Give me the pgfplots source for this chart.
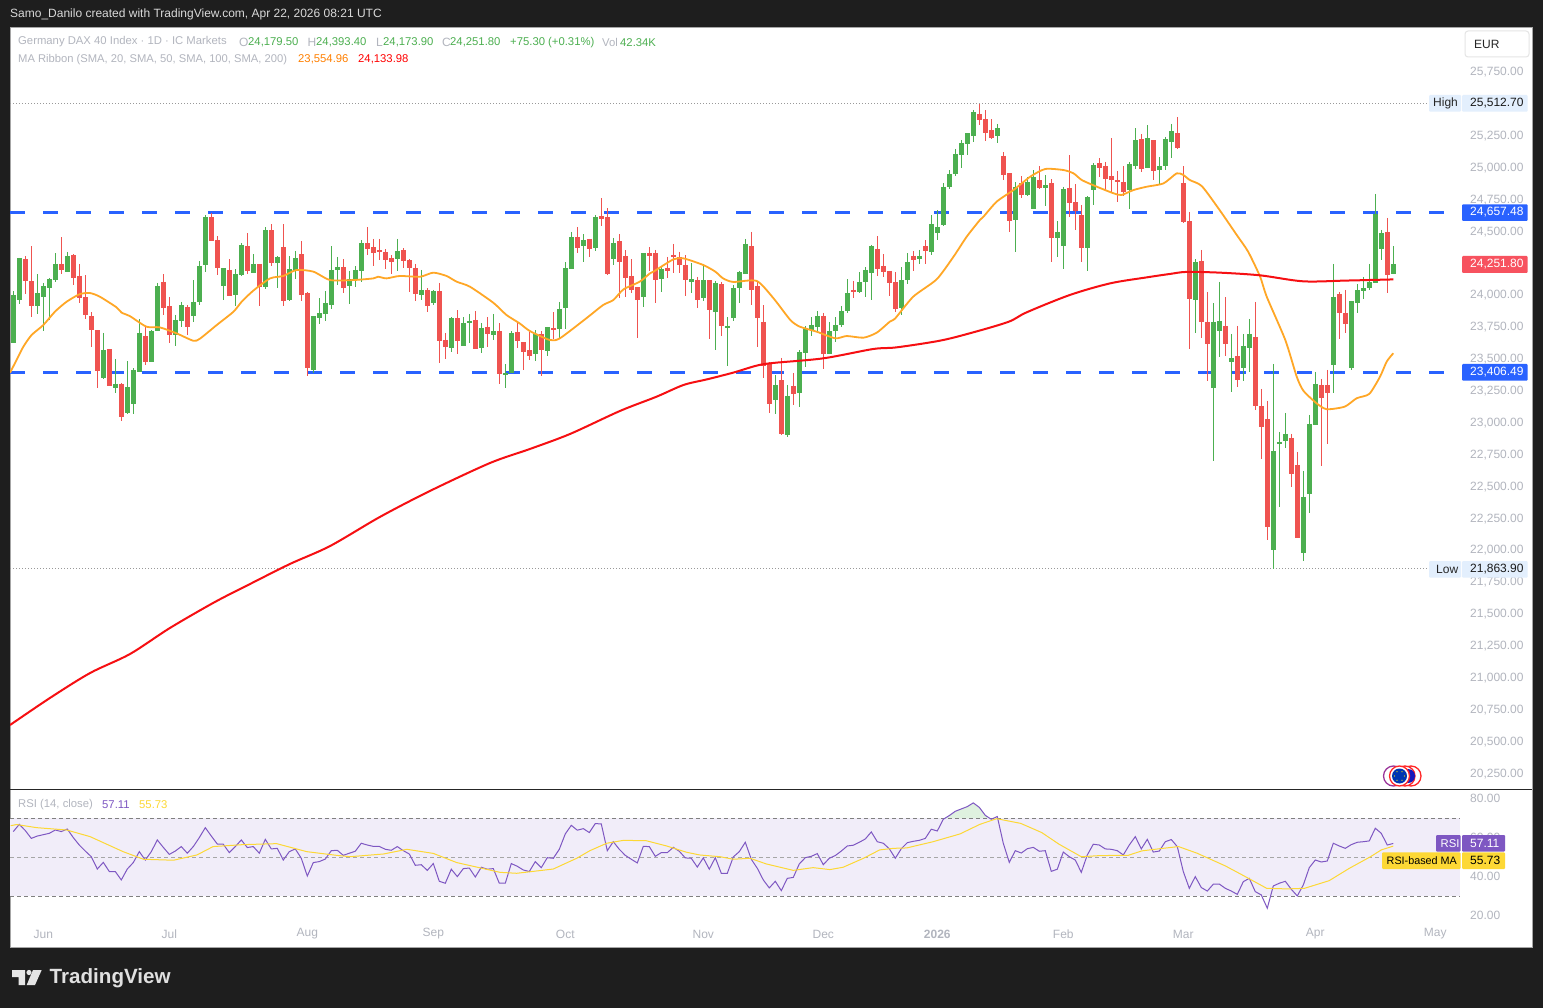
\documentclass[border=0pt]{standalone}
\usepackage{pgfplots}
\pgfplotsset{compat=1.18}
\usepackage{pgfplotstable}
\usetikzlibrary{calc}
\usepackage{fontspec}
\setmainfont{Liberation Sans}
\definecolor{dark}{HTML}{1E1E1E}
\definecolor{up}{HTML}{4CAF50}
\definecolor{down}{HTML}{EF5350}
\definecolor{lab}{HTML}{B2B5BE}
\definecolor{tick}{HTML}{B2B5BE}
\definecolor{dashb}{HTML}{2962FF}
\definecolor{ma50}{HTML}{FFA726}
\definecolor{ma200}{HTML}{F60F12}
\definecolor{rsi}{HTML}{7E57C2}
\definecolor{rsima}{HTML}{FDD835}
\definecolor{band}{HTML}{F1EDF9}
\definecolor{hl}{HTML}{E3EFFD}
\definecolor{lastred}{HTML}{F7525F}
\pgfplotstableread{
i O H L C
0 23635 24043 23635 24012
1 23972 24302 23941 24302
2 24294 24317 24019 24121
3 24121 24396 23839 23925
4 23925 24176 23863 24027
5 23996 24106 23729 24082
6 24066 24145 23816 24137
7 24129 24341 24114 24255
8 24255 24466 24176 24208
9 24192 24349 24192 24317
10 24325 24333 24090 24145
11 24161 24255 23949 23988
12 23996 24168 23823 23855
13 23847 23878 23604 23737
14 23737 23737 23282 23416
15 23361 23714 23353 23580
16 23588 23588 23298 23298
17 23282 23510 23243 23314
18 23314 23321 23023 23055
19 23086 23494 23078 23290
20 23157 23439 23078 23423
21 23408 23823 23408 23714
22 23690 23768 23463 23486
23 23486 23737 23486 23729
24 23729 24106 23729 24082
25 24114 24176 23855 23910
26 23925 23996 23635 23698
27 23698 23855 23612 23816
28 23808 23957 23761 23933
29 23917 23933 23698 23761
30 23847 24129 23800 23957
31 23957 24278 23933 24239
32 24247 24639 24192 24623
33 24623 24652 24435 24435
34 24443 24474 24168 24223
35 24082 24223 23972 24223
36 24208 24294 24004 24004
37 24012 24215 23925 24176
38 24168 24419 24161 24404
39 24396 24498 24176 24200
40 24184 24333 24184 24255
41 24255 24255 23925 24074
42 24074 24545 24059 24521
43 24521 24568 24239 24263
44 24263 24317 24066 24310
45 24388 24568 23925 23965
46 23972 24317 23965 24215
47 24208 24357 24137 24302
48 24333 24435 23965 24012
49 24027 24035 23376 23439
50 23423 23847 23400 23847
51 23831 23988 23784 23870
52 23863 24043 23808 23949
53 23933 24396 23902 24208
54 24208 24310 24090 24231
55 24231 24294 24027 24066
56 24082 24200 23941 24137
57 24129 24239 24074 24208
58 24200 24443 24114 24419
59 24419 24545 24325 24372
60 24388 24451 24239 24341
61 24364 24451 24286 24349
62 24349 24372 24215 24286
63 24302 24325 24176 24270
64 24294 24451 24200 24357
65 24364 24380 24223 24278
66 24286 24294 24035 24223
67 24223 24255 23965 24019
68 24012 24208 23972 24051
69 24051 24066 23878 23925
70 23949 24051 23933 24043
71 24043 24106 23478 23651
72 23659 23714 23510 23604
73 23596 23839 23565 23831
74 23831 23894 23549 23651
75 23612 23839 23612 23792
76 23800 23863 23635 23808
77 23816 23886 23588 23588
78 23596 23792 23557 23753
79 23761 23839 23604 23706
80 23698 23863 23659 23729
81 23729 23792 23314 23392
82 23384 23470 23282 23400
83 23400 23729 23400 23714
84 23721 23792 23596 23651
85 23643 23643 23423 23565
86 23580 23721 23502 23533
87 23549 23737 23494 23706
88 23706 23729 23376 23580
89 23572 23761 23533 23761
90 23753 23878 23667 23737
91 23745 23957 23674 23902
92 23910 24270 23745 24223
93 24215 24506 24215 24466
94 24466 24545 24341 24380
95 24396 24490 24270 24443
96 24451 24451 24310 24372
97 24380 24639 24357 24623
98 24631 24772 24553 24608
99 24623 24694 24168 24176
100 24294 24459 24247 24419
101 24435 24490 23988 24270
102 24317 24364 23996 24145
103 24161 24294 24027 24051
104 24074 24074 23674 23972
105 23996 24341 23917 24341
106 24341 24388 24200 24317
107 24341 24365 23949 24129
108 24137 24239 24035 24216
109 24224 24310 24145 24200
110 24325 24412 24184 24318
111 24310 24349 24184 24247
112 24247 24325 24004 24129
113 24114 24263 24027 24137
114 24129 24153 23910 23973
115 23988 24255 23965 24129
116 24129 24129 23667 23894
117 23878 24122 23580 24106
118 24098 24114 23690 23769
119 23753 23839 23455 23769
120 23831 24090 23808 24067
121 24067 24200 23949 24192
122 24176 24451 24176 24412
123 24396 24506 23933 24051
124 24082 24122 23604 23831
125 23800 23933 23361 23455
126 23471 23486 23086 23157
127 23188 23384 23079 23306
128 23345 23518 22914 22922
129 22914 23306 22898 23220
130 23298 23400 23149 23235
131 23243 23580 23134 23565
132 23557 23769 23447 23745
133 23737 23839 23690 23777
134 23761 23886 23714 23847
135 23847 23871 23431 23549
136 23549 23800 23549 23729
137 23729 23839 23643 23777
138 23777 23926 23761 23886
139 23886 24137 23871 24027
140 24051 24122 23988 24043
141 24035 24192 24027 24114
142 24114 24231 23996 24208
143 24184 24404 23973 24396
144 24373 24474 24161 24216
145 24239 24333 24153 24192
146 24200 24200 24004 24106
147 24114 24192 23878 23902
148 23910 24231 23855 24129
149 24129 24341 24098 24271
150 24318 24357 24200 24286
151 24294 24365 24255 24318
152 24396 24443 24255 24357
153 24349 24639 24325 24569
154 24498 24678 24443 24545
155 24561 24890 24553 24859
156 24859 24992 24843 24961
157 24961 25157 24945 25118
158 25110 25227 25008 25204
159 25196 25282 25110 25282
160 25259 25463 25212 25447
161 25431 25513 25345 25384
162 25392 25462 25219 25282
163 25306 25392 25235 25243
164 25258 25353 25204 25321
165 25102 25133 24913 24953
166 24968 24968 24506 24592
167 24600 24898 24349 24859
168 24890 24945 24772 24796
169 24796 24937 24788 24898
170 24686 24992 24686 24937
171 24913 25023 24843 24851
172 24851 24953 24710 24874
173 24890 24921 24270 24459
174 24459 24592 24310 24506
175 24396 24859 24215 24843
176 24851 25109 24623 24733
177 24741 24882 24521 24670
178 24639 24717 24270 24380
179 24380 24788 24200 24780
180 24835 25047 24717 25031
181 25047 25086 24937 25008
182 25023 25055 24835 24921
183 24945 25243 24819 24913
184 24913 24984 24741 24906
185 24898 25023 24788 24819
186 24835 25055 24686 25039
187 25023 25321 25000 25227
188 25235 25274 24976 25000
189 25008 25345 25008 25243
190 25227 25227 24913 24984
191 24992 25094 24874 25023
192 25023 25251 24992 25235
193 25211 25353 25086 25298
194 25282 25407 25157 25164
195 24890 25023 24576 24585
196 24592 24663 23589 23981
197 23973 24294 23714 24271
198 24279 24365 23675 23800
199 23800 24036 23338 23628
200 23283 23949 22710 23800
201 23730 24114 23526 23808
202 23769 23996 23534 23628
203 23487 23706 23251 23518
204 23534 23769 23291 23346
205 23440 23706 23338 23612
206 23597 23824 23408 23706
207 23683 23957 23110 23142
208 23142 23275 22726 22977
209 23040 23181 22091 22193
210 22012 23471 21864 22789
211 22844 22938 22350 22859
212 22867 23087 22812 22922
213 22891 22922 22507 22608
214 22679 22781 22107 22107
215 21989 22632 21926 22428
216 22452 23071 22303 23001
217 22993 23408 22993 23314
218 23306 23353 22671 23204
219 23306 23424 22844 23244
220 23463 24255 23244 23996
221 24020 24036 23667 23871
222 23871 24051 23714 23785
223 23440 23965 23424 23965
224 23949 24098 23871 24051
225 24044 24153 23981 24067
226 24067 24255 24051 24114
227 24106 24804 24106 24647
228 24373 24522 24287 24498
229 24506 24616 24028 24169
230 24179.5 24393.4 24173.9 24251.8
}\candles
\pgfplotstableread{
i r
0 63.2
1 66.9
2 63.7
3 59.7
4 60.9
5 61.6
6 62.3
7 64.0
8 63.2
9 64.5
10 60.1
11 56.3
12 53.2
13 50.3
14 44.0
15 47.4
16 42.7
17 42.7
18 38.4
19 44.0
20 47.3
21 52.9
22 48.6
23 52.9
24 58.9
25 55.1
26 51.5
27 53.2
28 55.5
29 52.1
30 55.5
31 60.1
32 65.2
33 60.9
34 56.8
35 56.7
36 52.4
37 55.5
38 58.9
39 55.0
40 55.5
41 52.1
42 59.2
43 54.3
44 54.6
45 48.6
46 52.9
47 54.3
48 49.5
49 40.4
50 47.3
51 47.8
52 49.1
53 53.4
54 53.6
55 51.0
56 52.1
57 53.1
58 57.2
59 56.3
60 55.6
61 55.6
62 54.1
63 53.6
64 55.5
65 53.4
66 51.7
67 45.9
68 46.2
69 43.3
70 46.8
71 37.7
72 36.7
73 43.9
74 40.1
75 44.2
76 44.5
77 39.9
78 44.9
79 43.9
80 44.2
81 36.7
82 36.7
83 46.8
84 45.4
85 43.5
86 42.7
87 47.8
88 44.7
89 49.8
90 49.5
91 54.1
92 62.0
93 66.4
94 63.9
95 64.7
96 62.7
97 67.3
98 67.1
99 53.4
100 58.0
101 54.1
102 51.0
103 49.0
104 47.1
105 55.6
106 55.5
107 50.5
108 52.4
109 52.4
110 55.1
111 53.1
112 49.7
113 49.5
114 45.0
115 49.7
116 43.9
117 49.8
118 41.8
119 41.8
120 50.2
121 52.9
122 57.7
123 49.0
124 44.4
125 38.4
126 34.3
127 37.7
128 32.9
129 39.2
130 39.7
131 46.6
132 49.8
133 50.5
134 51.9
135 46.2
136 49.5
137 50.9
138 53.2
139 55.8
140 56.2
141 57.7
142 59.4
143 63.0
144 58.0
145 57.2
146 54.4
147 49.5
148 54.4
149 57.5
150 58.2
151 58.7
152 59.7
153 64.4
154 63.5
155 69.5
156 71.4
157 73.6
158 74.8
159 76.0
160 77.9
161 75.6
162 71.5
163 69.5
164 70.9
165 57.2
166 47.4
167 53.4
168 52.2
169 54.4
170 55.1
171 53.1
172 53.4
173 42.8
174 43.9
175 52.7
176 50.3
177 48.6
178 42.3
179 51.2
180 56.7
181 56.3
182 54.3
183 54.1
184 53.4
185 51.2
186 56.3
187 60.6
188 54.3
189 59.2
190 52.7
191 53.2
192 58.0
193 59.1
194 55.5
195 42.7
196 34.1
197 40.1
198 34.5
199 32.7
200 36.2
201 36.3
202 34.1
203 32.7
204 31.0
205 37.5
206 39.2
207 32.4
208 30.7
209 23.9
210 35.3
211 36.7
212 37.7
213 33.6
214 30.2
215 35.8
216 44.7
217 48.6
218 47.6
219 48.1
220 57.2
221 55.8
222 54.6
223 56.5
224 57.7
225 58.0
226 58.4
227 64.9
228 62.3
229 56.3
230 57.11
}\rsitab
\begin{document}
\fontsize{12}{14}\selectfont
\begin{tikzpicture}
\useasboundingbox (0,0) rectangle (1543pt,-1008pt);
\fill[dark] (0,0) rectangle (1543pt,-1008pt);
\fill[white,draw=gray!70,line width=0.8pt] (10pt,-27pt) rectangle (1532.5pt,-947.5pt);
\begin{axis}[
  at={(10pt,-27pt)},anchor=north west,scale only axis,width=1450pt,height=762pt,
  xmin=-0.55,xmax=241.117,ymin=20137.3,ymax=26113.7,
  axis line style={draw=none},tick style={draw=none},xtick=\empty,
  scaled y ticks=false,
  ytick={20250,20500,20750,21000,21250,21500,21750,22000,22250,22500,22750,23000,23250,23500,23750,24000,24500,24750,25000,25250,25750},
  yticklabel pos=right,
  yticklabel style={inner sep=0pt,anchor=west,xshift=10pt,yshift=1pt,text=tick,font=\fontsize{12}{14}\selectfont},
  /pgf/number format/.cd,fixed,fixed zerofill,precision=2,1000 sep={,},assume math mode=true,
]
\addplot[dashb,line width=3pt,dash pattern=on 15pt off 18pt,forget plot] coordinates {(-0.55,24657.48)(241.117,24657.48)};
\addplot[dashb,line width=3pt,dash pattern=on 15pt off 18pt,forget plot] coordinates {(-0.55,23406.49)(241.117,23406.49)};
\addplot[gray!80,line width=1pt,dash pattern=on 1pt off 2pt,forget plot] coordinates {(-0.55,25512.7)(235.8,25512.7)};
\addplot[gray!80,line width=1pt,dash pattern=on 1pt off 2pt,forget plot] coordinates {(-0.55,21863.9)(235.8,21863.9)};
% wicks
\addplot[draw=none,mark=none,forget plot,unbounded coords=discard,error bars/.cd,y dir=minus,y explicit,error mark=none,error bar style={draw=up,line width=1pt}]
  table[x expr={\thisrow{C}>=\thisrow{O}?\thisrow{i}:nan},y=H,y error minus expr={\thisrow{H}-\thisrow{L}}]{\candles};
\addplot[draw=none,mark=none,forget plot,unbounded coords=discard,error bars/.cd,y dir=minus,y explicit,error mark=none,error bar style={draw=down,line width=1pt}]
  table[x expr={\thisrow{C}<\thisrow{O}?\thisrow{i}:nan},y=H,y error minus expr={\thisrow{H}-\thisrow{L}}]{\candles};
% bodies
\addplot[draw=none,mark=none,forget plot,unbounded coords=discard,error bars/.cd,y dir=minus,y explicit,error mark=none,error bar style={draw=up,line width=5pt}]
  table[x expr={\thisrow{C}>=\thisrow{O}?\thisrow{i}:nan},y=C,y error minus expr={max(\thisrow{C}-\thisrow{O},12)}]{\candles};
\addplot[draw=none,mark=none,forget plot,unbounded coords=discard,error bars/.cd,y dir=minus,y explicit,error mark=none,error bar style={draw=down,line width=5pt}]
  table[x expr={\thisrow{C}<\thisrow{O}?\thisrow{i}:nan},y=O,y error minus expr={max(\thisrow{O}-\thisrow{C},12)}]{\candles};
% SMA 50
\addplot[ma50,line width=1.8pt,line join=round,smooth,tension=0.4,forget plot] coordinates {
(-0.55,23402)(0.55,23502)(1.67,23606)(3.05,23698)(5,23776)(6.94,23881)(8.89,23959)(11.1,24019)(12.8,24027)(14.4,23999)(17.2,23915)(18.06,23873)(19.4,23847)(22.2,23763)(24.4,23758)(27.2,23711)(30,23653)(31.1,23669)(33.9,23776)(36.7,23881)(38.06,23959)(40,24046)(42.8,24142)(45,24161)(47.2,24208)(50,24195)(52.8,24129)(56.7,24129)(60,24142)(60.8,24155)(62.2,24142)(64.4,24161)(67.8,24155)(70,24187)(72.2,24161)(73.9,24116)(76.1,24077)(80,23951)(82.2,23855)(84.4,23789)(86.1,23729)(89.4,23659)(91.1,23672)(95.5,23829)(98.3,23933)(100,23972)(101.7,24056)(104.4,24116)(106.1,24181)(106.7,24195)(110,24291)(111.7,24299)(115,24247)(117,24195)(118.3,24142)(120,24114)(123.9,24122)(126.7,23986)(129.5,23816)(131.1,23763)(133.9,23724)(137,23672)(138.9,23690)(141.7,23677)(143.9,23716)(146.1,23803)(147,23829)(150,23999)(153.9,24135)(156.7,24312)(158.9,24469)(161.1,24600)(161.7,24626)(163.9,24744)(166.7,24835)(169.5,24940)(172,25000)(175,24992)(176.7,24966)(178.1,24913)(180.6,24861)(183.4,24809)(184.7,24796)(186.7,24835)(188.9,24861)(191.7,24887)(193.9,24966)(195,24953)(196.1,24913)(198.1,24865)(201.1,24675)(203.9,24483)(205.8,24352)(207.8,24156)(208.9,23999)(212,23659)(213.9,23372)(215,23262)(217.2,23163)(218.9,23116)(221.9,23136)(223.9,23202)(226,23236)(227.8,23372)(228.9,23489)(230,23554.96)};
% SMA 200
\addplot[ma200,line width=2pt,line join=round,smooth,tension=0.5,forget plot] coordinates {
(-0.55,20639)(6.1,20851)(12.8,21047)(19.45,21196)(26.1,21400)(33.6,21604)(39.45,21745)(46.1,21902)(52.8,22043)(61.1,22271)(69.45,22475)(79.45,22694)(86.1,22804)(92.8,22922)(101.1,23102)(107.2,23214)(111.7,23306)(115.6,23350)(120,23403)(123.9,23458)(126.7,23479)(135,23515)(143.3,23588)(147.2,23601)(154.5,23654)(160,23719)(165.9,23802)(168.9,23876)(176.1,24012)(182.8,24103)(188.9,24150)(192.8,24177)(195.6,24193)(201.1,24187)(207.8,24166)(215,24119)(222.2,24125)(230,24133.98)};
\end{axis}
\begin{axis}[
  at={(10pt,-790pt)},anchor=north west,scale only axis,width=1450pt,height=130pt,
  xmin=-0.55,xmax=241.117,ymin=17.85,ymax=84.51,
  axis line style={draw=none},tick style={draw=none},
  xtick={5,26,49,70,92,115,135,154,175,195,217,237},
  xticklabels={Jun,Jul,Aug,Sep,Oct,Nov,Dec,\textbf{2026},Feb,Mar,Apr,May},
  xticklabel style={inner sep=0pt,anchor=center,yshift=-14pt,text=tick,font=\fontsize{12}{14}\selectfont},
  ytick={20,40,60,80},
  yticklabel pos=right,
  yticklabel style={inner sep=0pt,anchor=west,xshift=10pt,text=tick,font=\fontsize{12}{14}\selectfont},
  /pgf/number format/.cd,fixed,fixed zerofill,precision=2,assume math mode=true,
]
\addplot[draw=none,fill=band,forget plot] coordinates {(-0.55,30)(241.117,30)(241.117,70)(-0.55,70)} --cycle;
\addplot[draw=none,fill=up!18,forget plot] coordinates {(155.3,70)(156,71.4)(157,73.6)(158,74.8)(159,76.0)(160,77.9)(161,75.6)(162,71.5)(162.75,70)} --cycle;
\addplot[gray,line width=0.8pt,dash pattern=on 4pt off 3pt,forget plot] coordinates {(-0.55,70)(241.117,70)};
\addplot[gray!70,line width=0.8pt,dash pattern=on 4pt off 3pt,forget plot] coordinates {(-0.55,50)(241.117,50)};
\addplot[gray,line width=0.8pt,dash pattern=on 4pt off 3pt,forget plot] coordinates {(-0.55,30)(241.117,30)};
\addplot[rsi,line width=1pt,forget plot] table[x=i,y=r]{\rsitab};
\addplot[rsima,line width=1pt,forget plot] coordinates {
(-0.45,66.2)(0.55,66.8)(3.9,65.2)(8.9,64.0)(12.8,60.6)(18.3,52.9)(21.7,49.0)(26.7,48.5)(30.6,51.2)(33.3,55.5)(38.3,56.5)(43.9,57.0)(48.9,52.9)(53.9,51.0)(56.1,50.3)(61.7,51.7)(65.6,54.1)(70,52.0)(73.9,47.3)(81.1,42.3)(83.9,41.8)(86.7,42.8)(90,44.0)(93.9,49.5)(96.1,53.4)(98.9,57.2)(101.7,58.7)(105.5,58.5)(108.9,55.8)(112.2,52.6)(114.4,51.2)(117.8,50.3)(120,49.0)(122.8,49.5)(125.5,46.6)(130,43.3)(133.3,44.7)(136.1,43.7)(138.3,44.9)(141.7,49.5)(144.4,53.8)(146.7,54.6)(148.9,54.8)(153.3,58.0)(157.8,62.0)(161.1,66.9)(163.9,69.8)(167.9,67.4)(171.4,62.7)(174.3,56.7)(178,50.3)(181.2,50.9)(185.8,51.0)(188.1,53.3)(191.6,54.6)(194.2,55.5)(197.3,52.1)(202,45.6)(204.8,41.0)(208.9,34.1)(212.3,33.8)(215.2,34.1)(219.3,38.0)(222.7,44.4)(226.2,50.3)(228,53.8)(230,55.73)};
\end{axis}
\begin{scope}[x=1pt,y=-1pt]
\draw[black!85,line width=1pt] (10,789.5) -- (1532,789.5);
\tikzset{t/.style={anchor=west,inner sep=0pt,font=\fontsize{12}{14}\selectfont},
  s/.style={anchor=west,inner sep=0pt,font=\fontsize{11.3}{14}\selectfont}}
\node[t,text=white!85!black] at (10,14) {Samo\_Danilo created with TradingView.com, Apr 22, 2026 08:21 UTC};
\node[s,text=lab] at (18,42) {Germany DAX 40 Index · 1D · IC Markets};
\node[t,text=lab] at (239,42.5) {O};
\node[s,text=up] at (248,42.5) {24,179.50};
\node[t,text=lab] at (307.5,42.5) {H};
\node[s,text=up] at (316,42.5) {24,393.40};
\node[t,text=lab] at (376,42.5) {L};
\node[s,text=up] at (383,42.5) {24,173.90};
\node[t,text=lab] at (442,42.5) {C};
\node[s,text=up] at (450,42.5) {24,251.80};
\node[s,text=up] at (510,42.5) {+75.30 (+0.31\%)};
\node[s,text=lab] at (602,42.5) {Vol};
\node[s,text=up] at (620,42.5) {42.34K};
\node[s,text=lab,font=\fontsize{11.2}{14}\selectfont] at (18,59.5) {MA Ribbon (SMA, 20, SMA, 50, SMA, 100, SMA, 200)};
\node[s,text=orange] at (298,59.5) {23,554.96};
\node[s,text=red] at (358,59.5) {24,133.98};
\node[s,text=lab] at (18,805) {RSI (14, close)};
\node[s,text=rsi] at (102,805) {57.11};
\node[s,text=rsima] at (139,805) {55.73};
% EUR
\draw[gray!20,line width=1pt,rounded corners=3pt,fill=white] (1465,31) rectangle (1529,57);
\node[t,text=black!85] at (1474,44.5) {EUR};
% price labels
\fill[hl,rounded corners=1pt] (1429,95) rectangle (1461,111.7);
\node[t,text=black!85] at (1433,103.5) {High};
\fill[hl,rounded corners=1pt] (1462,95) rectangle (1527.7,111.7);
\node[t,text=black!90] at (1470,103) {25,512.70};
\fill[hl,rounded corners=1pt] (1429,561) rectangle (1461,577.7);
\node[t,text=black!85] at (1436,569.5) {Low};
\fill[hl,rounded corners=1pt] (1462,561) rectangle (1527.7,577.7);
\node[t,text=black!90] at (1470,569) {21,863.90};
\fill[dashb,rounded corners=1pt] (1462,204.3) rectangle (1527.7,221);
\node[t,text=white] at (1470,212) {24,657.48};
\fill[dashb,rounded corners=1pt] (1462,364) rectangle (1527.7,380.7);
\node[t,text=white] at (1470,372) {23,406.49};
\fill[lastred,rounded corners=1pt] (1462,256) rectangle (1527.7,273);
\node[t,text=white] at (1470,264.5) {24,251.80};
% RSI labels
\fill[rsi,rounded corners=1pt] (1436,835) rectangle (1460.5,851.7);
\node[s,text=white] at (1440.5,843.5) {RSI};
\fill[rsi,rounded corners=1pt] (1462,835) rectangle (1505,851.7);
\node[t,text=white] at (1470,843.5) {57.11};
\fill[rsima,rounded corners=1pt] (1382,852.3) rectangle (1460.5,869);
\node[t,text=black,font=\fontsize{10.8}{14}\selectfont] at (1386.5,860.8) {RSI-based MA};
\fill[rsima,rounded corners=1pt] (1462,852.3) rectangle (1505,869);
\node[t,text=black] at (1470,860.8) {55.73};
% flag
\draw[violet!80,line width=1.3pt,fill=white] (1393.5,776) circle (10);
\draw[red!85,line width=1.3pt,fill=white] (1411,776) circle (10);
\draw[red!85,line width=1.3pt,fill=white] (1405,776) circle (10);
\fill[blue!70!black!90] (1408,776) circle (7);
\draw[red!85,line width=1.3pt,fill=white] (1399.5,776) circle (10);
\fill[blue!70!cyan!70!black] (1399.5,776) circle (7.5);
\foreach \a in {0,60,...,300} \fill[yellow] ($(1399.5,776)+(\a:5)$) circle (0.6);
% logo
\fill[white!90!black] (12,970) -- (25,970) -- (25,985) -- (18.5,985) -- (18.5,977) -- (12,977) -- cycle;
\fill[white!90!black] (29,972.5) circle (2.6);
\fill[white!90!black] (33,970) -- (41.7,970) -- (35,985) -- (26.7,985) -- cycle;
\node[anchor=west,inner sep=0pt,text=white!88!black,font=\fontsize{20.6}{24}\selectfont\bfseries] at (49.5,978) {TradingView};
\end{scope}
\end{tikzpicture}
\end{document}
